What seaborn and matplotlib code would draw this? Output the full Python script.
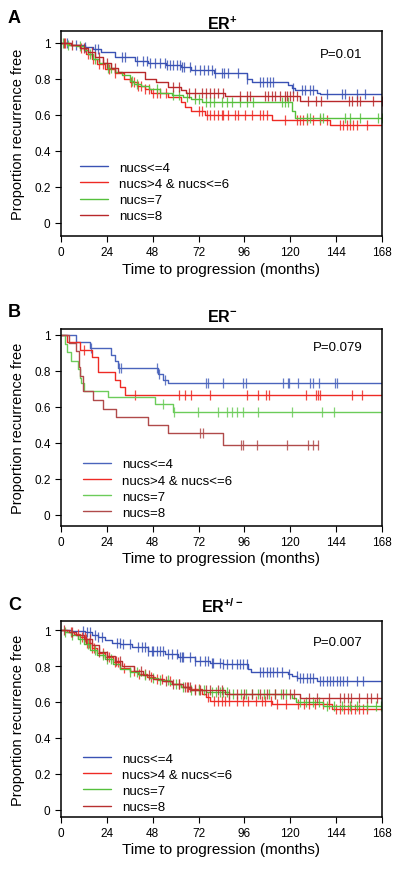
import numpy as np
import matplotlib
matplotlib.use("Agg")
import matplotlib.pyplot as plt
import seaborn as sns

sns.set_style("ticks")
plt.rcParams['font.family'] = ['Liberation Sans', 'DejaVu Sans']
plt.rcParams['mathtext.fontset'] = 'custom'
plt.rcParams['mathtext.rm'] = 'Liberation Sans'
plt.rcParams['mathtext.bf'] = 'Liberation Sans:bold'
plt.rcParams['text.color'] = 'black'
plt.rcParams['axes.labelcolor'] = 'black'
plt.rcParams['xtick.color'] = 'black'
plt.rcParams['ytick.color'] = 'black'

labels = ['nucs<=4', 'nucs>4 & nucs<=6', 'nucs=7', 'nucs=8']
x_ticks = [0, 24, 48, 72, 96, 120, 144, 168]
y_ticks = [0, 0.2, 0.4, 0.6, 0.8, 1]
y_tick_labels = ['0', '0.2', '0.4', '0.6', '0.8', '1']

# ---- A: ER+ ----
a_t_n4 = [0, 5, 12.4, 17, 21, 28, 38.5, 45.5, 55, 62.8, 68, 80, 97.2, 99.8, 119, 120.7, 122.5, 133.8, 135.6, 168]
a_s_n4 = [1, 0.99, 0.978, 0.965, 0.95, 0.92, 0.90, 0.89, 0.875, 0.863, 0.85, 0.83, 0.80, 0.78, 0.767, 0.748, 0.735, 0.72, 0.713, 0.713]
a_c_n4 = [3, 8, 12.6, 17.8, 19.5, 31.8, 33.5, 39.6, 43.1, 44.8, 46.6, 49.2, 51.8, 54.4, 55.6, 57, 58.8, 60.5, 62.3, 63.3,
          64.4, 67.5, 70.1, 72.8, 74.8, 77.1, 78.9, 80.6, 84.1, 85.3, 87.6, 92.8, 97.2, 104.2, 105.9, 107.7, 109.4, 111.1,
          121.5, 126, 127.7, 130.3, 132.1, 139, 146.9, 148.6, 154.8, 159.1]
a_t_n56 = [0, 4, 10, 13, 16, 19, 23, 28, 33, 36, 40, 44, 47, 56, 63, 64.7, 68.2, 75.2, 110.3, 140.8, 168]
a_s_n56 = [1, 0.99, 0.97, 0.94, 0.91, 0.88, 0.855, 0.83, 0.80, 0.78, 0.76, 0.74, 0.72, 0.70, 0.672, 0.644, 0.622, 0.598, 0.568, 0.54, 0.54]
a_c_n56 = [2, 10.5, 14, 16.5, 20, 22, 25, 28.5, 36.5, 38, 40.5, 42, 44, 46, 48, 50, 52, 55, 72, 74, 76.5, 78, 80, 82,
           84.1, 84.9, 87.6, 91.1, 92.8, 96.3, 99.8, 104.1, 105.9, 107.6, 117.2, 123.3, 125, 126.8, 128.6, 132, 135.5,
           139, 146, 147.8, 149.5, 151.3, 153, 154.8, 160]
a_t_n7 = [0, 3, 8, 12, 14, 17, 20, 24, 28, 32, 36, 38, 42, 46, 52, 58, 64, 68, 74, 121, 122.5, 168]
a_s_n7 = [1, 0.99, 0.98, 0.96, 0.94, 0.91, 0.89, 0.86, 0.84, 0.82, 0.79, 0.77, 0.76, 0.74, 0.72, 0.71, 0.70, 0.685, 0.67, 0.62, 0.58, 0.58]
a_c_n7 = [1, 3.5, 10, 15, 18, 24.5, 26, 37, 40, 50, 58.5, 62, 66, 70, 72, 76, 78, 80, 84.1, 86.7, 89.3, 93.7, 97.2,
          100.7, 115.5, 117.2, 119, 128.6, 130.3, 135.5, 137.3, 148.6, 151.3, 156.5, 166.1, 167.8]
a_t_n8 = [0, 5, 10, 14, 18, 22, 26, 30, 43.8, 49.9, 56, 63, 65.4, 86, 125, 168]
a_s_n8 = [1, 0.99, 0.97, 0.95, 0.92, 0.89, 0.86, 0.84, 0.80, 0.78, 0.755, 0.737, 0.72, 0.704, 0.674, 0.674]
a_c_n8 = [1.5, 6, 12, 16, 20, 24, 28, 58.8, 62, 67, 70, 74, 76, 78, 80, 82, 84.9, 93.7, 97.2, 98.9, 106.8, 108.5,
          110.3, 112, 114.6, 117.2, 118.1, 119.9, 121.6, 123.4, 129.4, 133.4, 136, 150.9, 152.1, 154.8, 156.5, 163.5, 167.8]

# ---- B: ER- ----
b_t_n4 = [0, 8, 15, 26.3, 28.1, 29.8, 50.8, 53.4, 56, 168]
b_s_n4 = [1, 0.96, 0.925, 0.89, 0.855, 0.815, 0.78, 0.75, 0.73, 0.73]
b_c_n4 = [15.5, 30.5, 31.5, 50.5, 51.5, 54.5, 75.9, 76.8, 84.9, 95.4, 96.7, 116, 118.8, 119.5, 124.2, 130.3, 131.7,
          135, 143.5, 144.5]
b_t_n56 = [0, 3, 10, 16, 19.5, 28, 31, 33.5, 168]
b_s_n56 = [1, 0.958, 0.917, 0.875, 0.792, 0.75, 0.708, 0.667, 0.667]
b_c_n56 = [12, 38.7, 61.9, 64.9, 67.9, 77.8, 97.2, 102.9, 107.3, 108.7, 128.1, 133.5, 134.4, 135.5, 152.1, 157.7]
b_t_n7 = [0, 2, 3, 5.4, 8.9, 10, 10.6, 12, 24.6, 49, 58.5, 168]
b_s_n7 = [1, 0.95, 0.905, 0.857, 0.81, 0.762, 0.733, 0.69, 0.655, 0.615, 0.571, 0.571]
b_c_n7 = [53.5, 59.1, 71.9, 82.3, 86.7, 89.3, 91.9, 95.4, 103.3, 120.7, 136.4, 142.9]
b_t_n8 = [0, 4, 8, 9.3, 10, 11.5, 16.7, 22, 29, 45.5, 56, 85, 134.7]
b_s_n8 = [1, 0.955, 0.91, 0.82, 0.77, 0.69, 0.64, 0.59, 0.545, 0.50, 0.455, 0.39, 0.39]
b_c_n8 = [72.7, 74.2, 94.2, 95.4, 102.4, 118.1, 129.1, 132.1, 134.7]

# ---- C: ER+/- ----
c_t_n4 = [0, 5, 12.6, 16, 19.5, 23, 26.5, 31, 37, 45.7, 54.4, 61.4, 70.1, 78, 85, 97.7, 99.5, 119, 120.8, 123.4, 133.8, 168]
c_s_n4 = [1, 0.995, 0.987, 0.975, 0.96, 0.945, 0.93, 0.92, 0.907, 0.885, 0.867, 0.848, 0.83, 0.815, 0.811, 0.783,
          0.768, 0.756, 0.742, 0.733, 0.718, 0.718]
c_c_n4 = [11.7, 13.4, 15.2, 17.8, 19.5, 21.3, 29.1, 30.9, 32.6, 36.1, 40.5, 42.2, 43.9, 45.7, 47.5, 48.3, 50.1, 51.8,
          53.6, 56.2, 57.9, 60.5, 62.3, 63.2, 64, 67.5, 70.1, 72.7, 75.4, 77.1, 78.9, 79.7, 83.2, 85, 86.7, 89.3, 91.9,
          93.7, 95.4, 97.2, 104.1, 105.9, 107.6, 109.4, 111.1, 112.9, 115.5, 119.5, 123.3, 125.1, 126.8, 128.6, 130.3,
          132.1, 135.6, 137.3, 139.1, 140.8, 142.6, 144.3, 146.1, 147.8, 149.5, 154.8, 158.3]
c_t_n56 = [0, 3, 7, 10, 13, 16, 19, 23, 27, 31, 36, 40.5, 45, 49, 54, 58, 63, 67, 74, 76, 78, 110.3, 141.6, 168]
c_s_n56 = [1, 0.99, 0.98, 0.96, 0.93, 0.90, 0.87, 0.85, 0.82, 0.79, 0.77, 0.755, 0.74, 0.728, 0.715, 0.70, 0.685,
           0.67, 0.645, 0.625, 0.607, 0.588, 0.56, 0.56]
c_c_n56 = [5, 9, 11, 12.5, 13.5, 14.5, 16, 17.5, 22, 25, 28, 30, 33, 38, 41, 44, 47, 50, 53, 57, 62, 66, 70, 72, 77,
           80, 82, 84, 86, 88, 92, 95, 98, 102, 105, 107, 110, 113, 118, 124, 127, 130, 133, 137, 140, 144, 146, 148,
           150, 152, 154, 156, 158, 160]
c_t_n7 = [0, 2, 5, 9, 12, 15, 19, 23, 27, 31, 36, 41, 46, 51, 57, 63, 68, 76, 88, 121, 123, 137, 168]
c_s_n7 = [1, 0.99, 0.975, 0.95, 0.92, 0.89, 0.86, 0.84, 0.81, 0.785, 0.765, 0.75, 0.735, 0.72, 0.70, 0.685, 0.665,
          0.655, 0.645, 0.62, 0.60, 0.58, 0.58]
c_c_n7 = [2, 6, 10, 14, 18, 22, 24, 26, 36, 40, 44, 48, 52, 56, 60, 64, 68, 72, 75, 79, 81, 83, 85, 87, 90, 94, 97,
          100, 103, 106, 109, 112, 115, 118, 125, 128, 132, 135, 139, 143, 147, 151, 155, 160, 165, 167.5]
c_t_n8 = [0, 4, 8, 12, 16, 20, 24, 28, 32, 38, 43, 48, 53, 58, 64, 68, 86, 125, 168]
c_s_n8 = [1, 0.99, 0.975, 0.95, 0.915, 0.88, 0.855, 0.83, 0.80, 0.77, 0.75, 0.73, 0.715, 0.70, 0.685, 0.665, 0.645, 0.62, 0.62]
c_c_n8 = [1.5, 6, 13, 15, 20, 24, 29, 31, 42, 46, 55, 58.5, 62, 65, 66.5, 67.5, 70, 73, 76, 78, 82, 84, 88, 92, 96,
          100, 104, 108, 112, 116, 120, 122, 130, 134, 140, 146, 148, 150, 152, 156, 160, 162, 165.5]


def draw_panel(ax, curves, colors, ylim, pval, ptxt_y, leg_x, leg_y):
    for (t, s, c), lab, col in zip(curves, labels, colors):
        t = np.array(t, dtype=float)
        s = np.array(s, dtype=float)
        sns.lineplot(x=t, y=s, color=col, drawstyle='steps-post', estimator=None, sort=False,
                     linewidth=1.0, label=lab, ax=ax)
        c = np.array(c, dtype=float)
        idx = np.searchsorted(t, c, side='right') - 1
        ax.plot(c, s[idx], linestyle='none', marker='|', markersize=7.5, markeredgewidth=0.9,
                color=col, alpha=0.85)
    ax.set_xlim(0, 168)
    ax.set_ylim(*ylim)
    ax.set_xticks(x_ticks)
    ax.set_yticks(y_ticks)
    ax.set_yticklabels(y_tick_labels)
    ax.tick_params(direction='out', length=4, width=0.8, labelsize=8.5, colors='black')
    for sp in ax.spines.values():
        sp.set_visible(True)
        sp.set_linewidth(1.1)
        sp.set_color('black')
    ax.set_xlabel('Time to progression (months)', fontsize=11)
    ax.set_ylabel('Proportion recurrence free', fontsize=10.5)
    ax.xaxis.set_label_coords(0.5, -0.125)
    ax.yaxis.set_label_coords(-0.112, 0.5)
    ax.text(0.94, ptxt_y, pval, transform=ax.transAxes, ha='right', va='center', fontsize=9.5)
    ax.legend(loc='center left', bbox_to_anchor=(leg_x, leg_y), frameon=False, fontsize=9.5,
              handlelength=2.1, handletextpad=0.85, labelspacing=0.3, borderpad=0, borderaxespad=0)


fig = plt.figure(figsize=(4.0, 8.78), dpi=100)
ax_a = fig.add_axes([0.1525, 0.7300, 0.8025, 0.2335])
ax_b = fig.add_axes([0.1525, 0.3998, 0.8025, 0.2244])
ax_c = fig.add_axes([0.1525, 0.0683, 0.8025, 0.2232])

col_a = ['#3a52b4', '#ee2a24', '#55c03c', '#b8282a']
col_b = ['#4a64bc', '#ee2a24', '#6ccc5a', '#b04a4a']
col_c = ['#3a52b4', '#ee2a24', '#55c03c', '#b83030']

draw_panel(ax_a, [(a_t_n4, a_s_n4, a_c_n4), (a_t_n56, a_s_n56, a_c_n56), (a_t_n7, a_s_n7, a_c_n7),
                  (a_t_n8, a_s_n8, a_c_n8)], col_a, (-0.075, 1.065), 'P=0.01', 0.89, 0.059, 0.215)
draw_panel(ax_b, [(b_t_n4, b_s_n4, b_c_n4), (b_t_n56, b_s_n56, b_c_n56), (b_t_n7, b_s_n7, b_c_n7),
                  (b_t_n8, b_s_n8, b_c_n8)], col_b, (-0.062, 1.033), 'P=0.079', 0.91, 0.069, 0.19)
draw_panel(ax_c, [(c_t_n4, c_s_n4, c_c_n4), (c_t_n56, c_s_n56, c_c_n56), (c_t_n7, c_s_n7, c_c_n7),
                  (c_t_n8, c_s_n8, c_c_n8)], col_c, (-0.04, 1.05), 'P=0.007', 0.895, 0.069, 0.175)

# panel titles and letters
fig.text(0.555, 1 - 30 / 878, r'ER$^{\mathbf{+}}$', ha='center', va='baseline', fontsize=11.5, fontweight='bold')
fig.text(0.555, 1 - 322 / 878, r'ER$^{\mathbf{-}}$', ha='center', va='baseline', fontsize=11.5, fontweight='bold')
fig.text(0.555, 1 - 613 / 878, r'ER$^{\mathbf{+/-}}$', ha='center', va='baseline', fontsize=11.5, fontweight='bold')
fig.text(0.02, 1 - 23 / 878, 'A', ha='left', va='baseline', fontsize=13, fontweight='bold')
fig.text(0.02, 1 - 316.7 / 878, 'B', ha='left', va='baseline', fontsize=13, fontweight='bold')
fig.text(0.02, 1 - 610 / 878, 'C', ha='left', va='baseline', fontsize=13, fontweight='bold')

fig.savefig('out.png', dpi=100)
